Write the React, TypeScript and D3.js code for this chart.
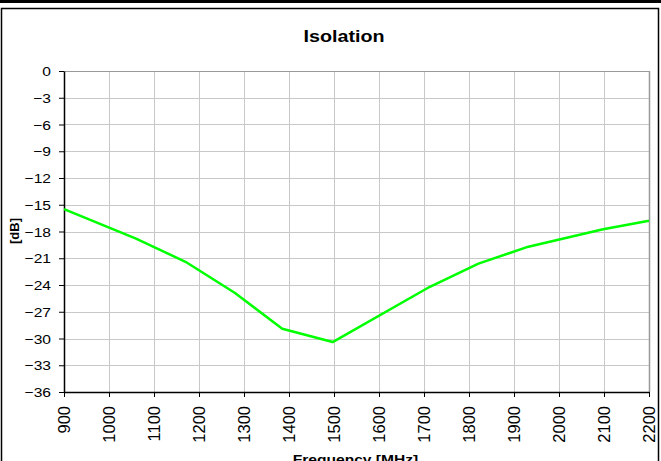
import React, {useEffect, useRef} from 'react';
import * as d3 from "d3"

// values
const freqs = [900, 1060, 1170, 1280, 1385, 1497, 1713, 1821, 1932, 2098, 2200]
const isolation = [-15.5, -18.8, -21.4, -24.9, -28.9, -30.4, -24.2, -21.6, -19.7, -17.75, -16.8]
const xTicks = [900, 1000, 1100, 1200, 1300, 1400, 1500, 1600, 1700, 1800, 1900, 2000, 2100, 2200]
const yTicks = [0, -3, -6, -9, -12, -15, -18, -21, -24, -27, -30, -33, -36]

const App = () => {
  const ref = useRef<SVGSVGElement>(null)

  useEffect(() => {
    const width = 661
    const height = 461
    const margin = {top: 71, right: 12, bottom: 69, left: 64}
    const font = "Liberation Sans, Arial, sans-serif"
    const sx = 1.2 // horizontal text stretch seen in the reference
    const svg = d3.select(ref.current)
    svg.selectAll("*").remove()

    // outer decorations
    svg.append("rect").attr("x", 0).attr("y", 0).attr("width", width).attr("height", 3).attr("fill", "#000")
    svg.append("rect").attr("x", 1.5).attr("y", 8.5).attr("width", 657).attr("height", 470)
      .attr("fill", "none").attr("stroke", "#000").attr("stroke-width", 1.5)

    let x = d3.scaleLinear().domain([900, 2200]).range([margin.left, width - margin.right])
    let y = d3.scaleLinear().domain([-36, 0]).range([height - margin.bottom, margin.top])

    // grid
    const grid = svg.append("g").attr("stroke", "#c8c8c8").attr("stroke-width", 1)
    grid.selectAll("line.v").data(xTicks.slice(1)).join("line").attr("class", "v")
      .attr("x1", d => Math.round(x(d)) + 0.5).attr("x2", d => Math.round(x(d)) + 0.5)
      .attr("y1", y(0)).attr("y2", y(-36))
    grid.selectAll("line.h").data(yTicks.slice(0, -1)).join("line").attr("class", "h")
      .attr("y1", d => Math.round(y(d)) + 0.5).attr("y2", d => Math.round(y(d)) + 0.5)
      .attr("x1", x(900)).attr("x2", x(2200))
    svg.append("line").attr("x1", Math.round(x(2200)) + 0.5).attr("x2", Math.round(x(2200)) + 0.5)
      .attr("y1", y(0)).attr("y2", y(-36)).attr("stroke", "#999").attr("stroke-width", 1.5)
    svg.append("line").attr("x1", x(900)).attr("x2", x(2200))
      .attr("y1", Math.round(y(0)) + 0.5).attr("y2", Math.round(y(0)) + 0.5).attr("stroke", "#999")

    // axes
    let yAxis = (g: any) => g
      .attr("transform", `translate(${margin.left},0)`)
      .call(d3.axisLeft(y).tickValues(yTicks).tickSize(5).tickSizeOuter(0).tickFormat(d3.format("d")))
      .call((g: any) => g.selectAll("text")
        .attr("font-size", 13).attr("fill", "#000")
        .attr("x", -13 / sx).attr("dy", "0.36em")
        .attr("transform", `scale(${sx},1)`))
    let xAxis = (g: any) => g
      .attr("transform", `translate(0,${height - margin.bottom})`)
      .call(d3.axisBottom(x).tickValues(xTicks).tickSize(5).tickSizeOuter(0).tickFormat(d3.format("d")))
      .call((g: any) => g.selectAll("text")
        .attr("font-size", 16.5).attr("fill", "#000")
        .attr("transform", "rotate(-90)")
        .attr("text-anchor", "end")
        .attr("x", -14).attr("y", 0).attr("dy", "0.36em"))

    svg.append("g").call(yAxis).attr("font-family", font)
    svg.append("g").call(xAxis).attr("font-family", font)
    svg.selectAll(".domain").attr("stroke", "#000").attr("stroke-width", 1.5)

    // line
    const line = d3.line<number>().x((d, i) => x(freqs[i])).y(d => y(d))
    svg.append("path").datum(isolation).attr("d", line)
      .attr("fill", "none").attr("stroke", "#00ff00").attr("stroke-width", 2.5).attr("stroke-linejoin", "round")

    // labels
    svg.append("text").attr("transform", `translate(344,41.7) scale(1.16,1)`).attr("text-anchor", "middle")
      .attr("font-family", font).attr("font-weight", "bold").attr("font-size", 17).text("Isolation")
    svg.append("text").attr("transform", "translate(19.3,231) rotate(-90)").attr("text-anchor", "middle")
      .attr("font-family", font).attr("font-weight", "bold").attr("font-size", 13).text("[dB]")
    svg.append("text").attr("transform", `translate(355.5,463.5) scale(${sx},1)`).attr("text-anchor", "middle")
      .attr("font-family", font).attr("font-weight", "bold").attr("font-size", 13).text("Frequency [MHz]")
  }, [])

  return (
    <svg ref={ref} width={661} height={461}
      style={{position: "absolute", left: 0, top: 0, background: "#fff"}} />
  )
}
export default App;
